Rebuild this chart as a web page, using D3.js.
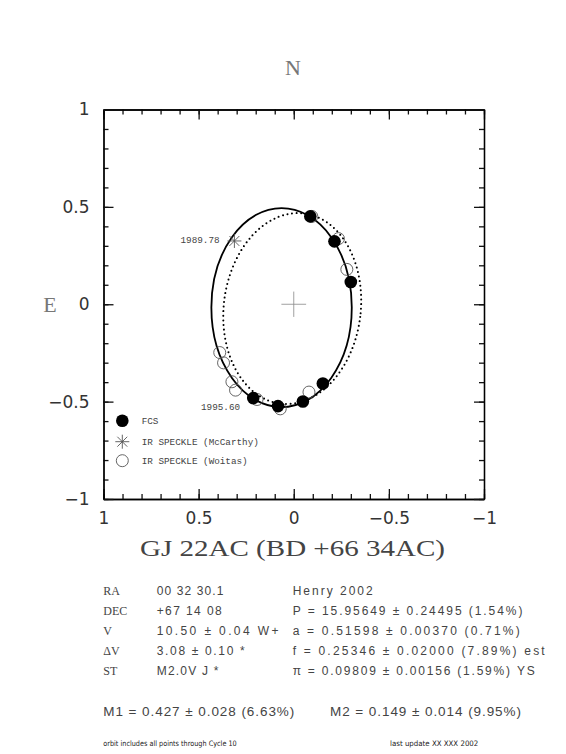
<!DOCTYPE html>
<html>
<head>
<meta charset="utf-8">
<script src="https://cdn.jsdelivr.net/npm/d3@7"></script>
<style>
  body { margin: 0; background: #fff; }
  svg { display: block; }
  .tick text { font-family: "DejaVu Sans", sans-serif; font-size: 17px; fill: #333; }
</style>
</head>
<body>
<svg id="chart" width="566" height="754"></svg>
<script>
// relative positions of GJ 22AC, arcsec (east offset, north offset)
const fcsX = [-0.087, -0.214, -0.300, -0.153, -0.048, 0.083, 0.213]
const fcsY = [0.451, 0.323, 0.114, -0.407, -0.499, -0.523, -0.482]

const woitasX = [-0.095, -0.235, -0.279, 0.389, 0.369, 0.325, 0.306, 0.193, 0.071, -0.080]
const woitasY = [0.451, 0.337, 0.179, -0.248, -0.301, -0.398, -0.441, -0.489, -0.537, -0.451]

const mccX = [0.312]
const mccY = [0.325]

// epoch labels (right end of text)
const epochLabels = ['1989.78', '1995.60']
const epochX = [0.39, 0.282]
const epochY = [0.330, -0.525]

// orbit ellipses: [cx, cy, rx, ry, tilt deg]
const orbitFit = [0.064, -0.017, 0.369, 0.511, 0]
const orbitOld = [0.008, -0.022, 0.360, 0.492, 7]

const majorTicks = [1, 0.5, 0, -0.5, -1]
const minorTicks = d3.range(-10, 11).map(d => d / 10)

const infoLeftLabels = ['RA', 'DEC', 'V', '\u0394V', 'ST']
const infoLeftValues = ['00 32 30.1', '+67 14 08', '10.50 \u00b1 0.04 W+', '3.08 \u00b1 0.10 *', 'M2.0V J *']
const infoLeftWidths = [66.7, 65, 121.7, 88, 61.7]
const infoRight = ['Henry 2002', 'P = 15.95649 \u00b1 0.24495 (1.54%)', 'a = 0.51598 \u00b1 0.00370 (0.71%)',
  'f = 0.25346 \u00b1 0.02000 (7.89%) est', '\u03c0 = 0.09809 \u00b1 0.00156 (1.59%) YS']
const infoRightWidths = [80, 229.7, 227, 252, 242]
const masses = ['M1 = 0.427 \u00b1 0.028 (6.63%)', 'M2 = 0.149 \u00b1 0.014 (9.95%)']

const svg = d3.select('#chart')

const x = d3.scaleLinear().domain([1, -1]).range([103.5, 484])
const y = d3.scaleLinear().domain([1, -1]).range([109.5, 499])

// axes, ticks inward on all four sides
function addAxis(axisFn, scale, transform, values, size, labels) {
  const a = axisFn(scale).tickValues(values).tickSize(-size).tickSizeOuter(0)
    .tickPadding(axisFn === d3.axisBottom ? 13 : 14)
    .tickFormat(labels ? d3.format('') : () => '')
  const g = svg.append('g').attr('class', 'axis').attr('transform', transform).call(a)
  g.selectAll('.tick line').attr('stroke', '#111').attr('stroke-width', 1.3)
  g.select('.domain').attr('stroke', '#000').attr('stroke-width', 1.3)
}
addAxis(d3.axisBottom, x, `translate(0,${y(-1)})`, minorTicks, 5, false)
addAxis(d3.axisBottom, x, `translate(0,${y(-1)})`, majorTicks, 10, true)
addAxis(d3.axisTop, x, `translate(0,${y(1)})`, minorTicks, 5, false)
addAxis(d3.axisTop, x, `translate(0,${y(1)})`, majorTicks, 10, false)
addAxis(d3.axisLeft, y, `translate(${x(1)},0)`, minorTicks, 5, false)
addAxis(d3.axisLeft, y, `translate(${x(1)},0)`, majorTicks, 10, true)
addAxis(d3.axisRight, y, `translate(${x(-1)},0)`, minorTicks, 5, false)
addAxis(d3.axisRight, y, `translate(${x(-1)},0)`, majorTicks, 10, false)

// center cross
const plot = svg.append('g')
plot.append('line').attr('x1', x(0.065)).attr('x2', x(-0.065)).attr('y1', y(0)).attr('y2', y(0))
  .attr('stroke', '#888').attr('stroke-width', 0.8)
plot.append('line').attr('x1', x(0)).attr('x2', x(0)).attr('y1', y(0.065)).attr('y2', y(-0.065))
  .attr('stroke', '#888').attr('stroke-width', 0.8)

function drawOrbit(o) {
  return plot.append('ellipse')
    .attr('cx', x(o[0])).attr('cy', y(o[1]))
    .attr('rx', Math.abs(x(o[2]) - x(0))).attr('ry', Math.abs(y(o[3]) - y(0)))
    .attr('transform', `rotate(${o[4]},${x(o[0])},${y(o[1])})`)
    .attr('fill', 'none').attr('stroke', '#000')
}
drawOrbit(orbitOld).attr('stroke-width', 2).attr('stroke-dasharray', '0 4.6').attr('stroke-linecap', 'round')
drawOrbit(orbitFit).attr('stroke-width', 1.8)

// open circles (Woitas)
plot.selectAll('.woitas').data(woitasX).join('circle')
  .attr('class', 'woitas')
  .attr('cx', d => x(d)).attr('cy', (d, i) => y(woitasY[i])).attr('r', 6)
  .attr('fill', 'none').attr('stroke', '#555').attr('stroke-width', 0.9)

function asterisk(g, cx, cy, r) {
  for (let k = 0; k < 4; k++) {
    const ang = k * Math.PI / 4
    g.append('line')
      .attr('x1', cx - r * Math.cos(ang)).attr('y1', cy - r * Math.sin(ang))
      .attr('x2', cx + r * Math.cos(ang)).attr('y2', cy + r * Math.sin(ang))
      .attr('stroke', '#555').attr('stroke-width', 0.9)
  }
}
mccX.forEach((d, i) => asterisk(plot, x(d), y(mccY[i]), 7))

// filled circles (FCS)
plot.selectAll('.fcs').data(fcsX).join('circle')
  .attr('class', 'fcs')
  .attr('cx', d => x(d)).attr('cy', (d, i) => y(fcsY[i])).attr('r', 6.3)
  .attr('fill', '#000')

// epoch labels
plot.selectAll('.epoch').data(epochLabels).join('text')
  .attr('x', (d, i) => x(epochX[i])).attr('y', (d, i) => y(epochY[i]))
  .attr('dy', '0.35em').attr('text-anchor', 'end')
  .attr('font-family', 'Liberation Mono, monospace').attr('font-size', 9.3).attr('fill', '#444')
  .text(d => d)

// legend
const legend = svg.append('g')
const legY = [420.7, 441.7, 460.7]
const legText = ['FCS', 'IR SPECKLE (McCarthy)', 'IR SPECKLE (Woitas)']
legend.append('circle').attr('cx', 122.3).attr('cy', legY[0]).attr('r', 6.3).attr('fill', '#000')
asterisk(legend, 122.3, legY[1], 7)
legend.append('circle').attr('cx', 122.3).attr('cy', legY[2]).attr('r', 6)
  .attr('fill', 'none').attr('stroke', '#555').attr('stroke-width', 0.9)
legend.selectAll('text').data(legText).join('text')
  .attr('x', 141.7).attr('y', (d, i) => legY[i]).attr('dy', '0.35em')
  .attr('font-family', 'Liberation Mono, monospace').attr('font-size', 9.3).attr('fill', '#444')
  .text(d => d)

// direction labels and title
svg.append('text').attr('x', 293).attr('y', 75).attr('text-anchor', 'middle')
  .attr('font-family', 'Liberation Serif, serif').attr('font-size', 22).attr('fill', '#777').text('N')
svg.append('text').attr('x', 50).attr('y', 312).attr('text-anchor', 'middle')
  .attr('font-family', 'Liberation Serif, serif').attr('font-size', 22).attr('fill', '#777').text('E')
svg.append('text').attr('x', 140).attr('y', 556)
  .attr('textLength', 305).attr('lengthAdjust', 'spacingAndGlyphs')
  .attr('font-family', 'Liberation Serif, serif').attr('font-size', 23).attr('fill', '#444')
  .text('GJ 22AC (BD +66 34AC)')

// info block
const info = svg.append('g').attr('fill', '#444')
const rowY = d3.range(5).map(i => 595 + i * 20)
info.selectAll('.lab').data(infoLeftLabels).join('text')
  .attr('x', 103.3).attr('y', (d, i) => rowY[i])
  .attr('font-family', 'Liberation Serif, serif').attr('font-size', 12).text(d => d)
info.selectAll('.val').data(infoLeftValues).join('text')
  .attr('x', 156.7).attr('y', (d, i) => rowY[i])
  .attr('textLength', (d, i) => infoLeftWidths[i]).attr('lengthAdjust', 'spacing')
  .attr('font-family', 'Liberation Sans, sans-serif').attr('font-size', 12).text(d => d)
info.selectAll('.right').data(infoRight).join('text')
  .attr('x', 292.7).attr('y', (d, i) => rowY[i])
  .attr('textLength', (d, i) => infoRightWidths[i]).attr('lengthAdjust', 'spacing')
  .attr('font-family', 'Liberation Sans, sans-serif').attr('font-size', 12).text(d => d)
info.selectAll('.mass').data(masses).join('text')
  .attr('x', (d, i) => i === 0 ? 103.3 : 330).attr('y', 716)
  .attr('textLength', 191).attr('lengthAdjust', 'spacing')
  .attr('font-family', 'Liberation Sans, sans-serif').attr('font-size', 13.5).text(d => d)

// footer
svg.append('text').attr('x', 103.3).attr('y', 746)
  .attr('textLength', 133.4).attr('lengthAdjust', 'spacingAndGlyphs')
  .attr('font-family', 'DejaVu Sans, sans-serif').attr('font-size', 7.5).attr('fill', '#222')
  .text('orbit includes all points through Cycle 10')
svg.append('text').attr('x', 390).attr('y', 746)
  .attr('textLength', 88.3).attr('lengthAdjust', 'spacingAndGlyphs')
  .attr('font-family', 'DejaVu Sans, sans-serif').attr('font-size', 7.5).attr('fill', '#222')
  .text('last update XX XXX 2002')
</script>
</body>
</html>
